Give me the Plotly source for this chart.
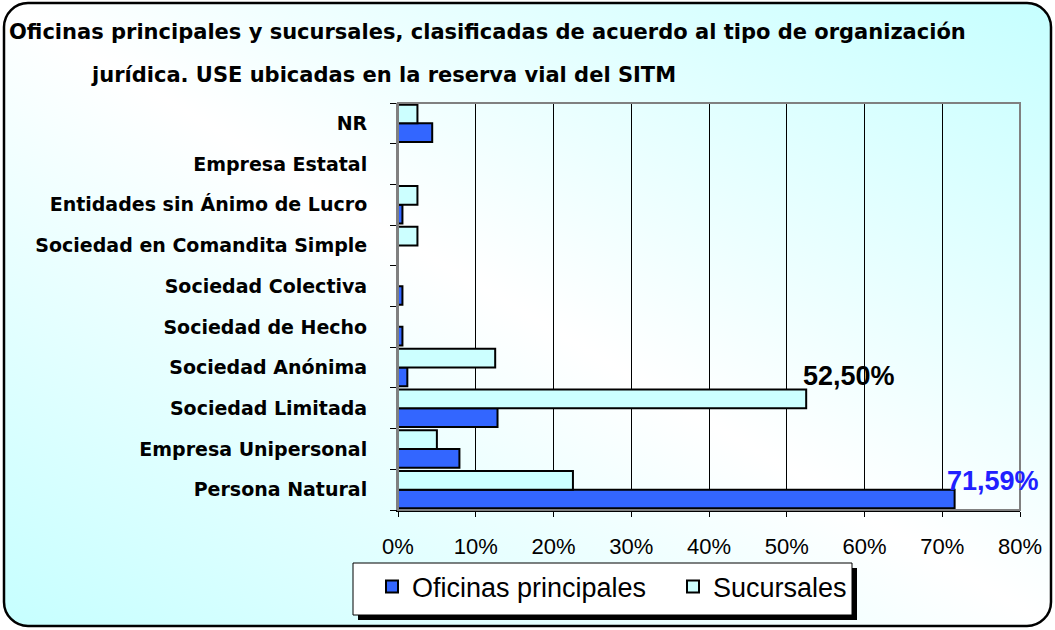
import base64
import plotly.graph_objects as go

# ---- data ----
categories = ["Persona Natural", "Empresa Unipersonal", "Sociedad Limitada",
              "Sociedad Anónima", "Sociedad de Hecho", "Sociedad Colectiva",
              "Sociedad en Comandita Simple", "Entidades sin Ánimo de Lucro",
              "Empresa Estatal", "NR"]
oficinas = [71.59, 7.9, 12.8, 1.2, 0.57, 0.57, 0.0, 0.57, 0.0, 4.4]
sucursales = [22.5, 5.0, 52.5, 12.5, 0.0, 0.0, 2.5, 2.5, 0.0, 2.5]
x_ticks = [0, 10, 20, 30, 40, 50, 60, 70, 80]
x_tick_labels = [f"{v}%" for v in x_ticks]

W, H = 1055, 630
ML, MR, MT, MB = 398, 35, 103, 120
PW, PH = W - ML - MR, H - MT - MB

def px_x(px):
    return (px - ML) / PW

def px_y(py):
    return (H - MB - py) / PH

FONT_B = "DejaVu Sans"
FONT_N = "Liberation Sans, Arial, sans-serif"

svg = f'''<svg xmlns="http://www.w3.org/2000/svg" width="{W}" height="{H}" viewBox="0 0 {W} {H}" preserveAspectRatio="none">
<defs><linearGradient id="g" x1="0" y1="1" x2="1" y2="0">
<stop offset="0" stop-color="#C6FFFF"/><stop offset="0.5" stop-color="#FFFFFF"/><stop offset="1" stop-color="#C6FFFF"/>
</linearGradient></defs>
<rect x="4" y="3" width="1047" height="623" rx="24" ry="24" fill="url(#g)" stroke="#000" stroke-width="2.5"/>
</svg>'''
bg_src = "data:image/svg+xml;base64," + base64.b64encode(svg.encode()).decode()

fig = go.Figure()
fig.add_trace(go.Bar(y=categories, x=oficinas, orientation="h", name="Oficinas principales",
                     marker=dict(color="#3366FF", line=dict(color="black", width=2)),
                     legend="legend"))
fig.add_trace(go.Bar(y=categories, x=sucursales, orientation="h", name="Sucursales",
                     marker=dict(color="#CCFFFF", line=dict(color="black", width=2)),
                     legend="legend2"))

def fmt(v):
    return f"{v:.2f}%".replace(".", ",")

annotations = [
    dict(text="<b>Oficinas principales y sucursales, clasificadas de acuerdo al tipo de organización</b>",
         xref="paper", yref="paper", x=px_x(7), y=px_y(32), xanchor="left", yanchor="middle",
         showarrow=False, font=dict(family=FONT_B, size=21, color="black")),
    dict(text="<b>jurídica. USE ubicadas en la reserva vial del SITM</b>",
         xref="paper", yref="paper", x=px_x(89), y=px_y(75), xanchor="left", yanchor="middle",
         showarrow=False, font=dict(family=FONT_B, size=21, color="black")),
    dict(text=f"<b>{fmt(sucursales[2])}</b>", x=sucursales[2], y=categories[2],
         xanchor="left", yanchor="middle", xshift=-5, yshift=32, showarrow=False,
         font=dict(family=FONT_N, size=27, color="black")),
    dict(text=f"<b>{fmt(oficinas[0])}</b>", x=oficinas[0], y=categories[0],
         xanchor="left", yanchor="middle", xshift=-10, yshift=9, showarrow=False,
         font=dict(family=FONT_N, size=27, color="#2020FF")),
]

shapes = [
    # plot frame
    dict(type="rect", xref="paper", yref="paper", x0=0, y0=0, x1=1, y1=1,
         line=dict(color="#808080", width=2), layer="above"),
    # legend shadow and box
    dict(type="rect", xref="paper", yref="paper", x0=px_x(358), x1=px_x(857),
         y0=px_y(620), y1=px_y(568), fillcolor="black", line=dict(width=0), layer="above"),
    dict(type="rect", xref="paper", yref="paper", x0=px_x(353), x1=px_x(852),
         y0=px_y(615), y1=px_y(563), fillcolor="white", line=dict(color="black", width=1), layer="above"),
]

fig.update_layout(
    width=W, height=H,
    margin=dict(l=ML, r=MR, t=MT, b=MB, autoexpand=False),
    paper_bgcolor="white", plot_bgcolor="rgba(0,0,0,0)",
    barmode="group", bargap=0.08, bargroupgap=0,
    showlegend=True,
    legend=dict(orientation="h", x=px_x(372), y=px_y(587), xanchor="left", yanchor="middle",
                bgcolor="rgba(0,0,0,0)", borderwidth=0,
                font=dict(family=FONT_N, size=27, color="black")),
    legend2=dict(orientation="h", x=px_x(673), y=px_y(587), xanchor="left", yanchor="middle",
                 bgcolor="rgba(0,0,0,0)", borderwidth=0,
                 font=dict(family=FONT_N, size=27, color="black")),
    xaxis=dict(range=[0, 80], tickmode="array", tickvals=x_ticks, ticktext=x_tick_labels,
               showgrid=True, gridcolor="black", gridwidth=1, zeroline=False,
               showline=True, linecolor="black", linewidth=1.5,
               ticks="outside", ticklen=5, tickcolor="black", tickwidth=1,
               ticklabelstandoff=11,
               tickfont=dict(family=FONT_N, size=22, color="black"), fixedrange=True),
    yaxis=dict(categoryorder="array", categoryarray=categories, showgrid=False,
               showline=True, linecolor="#808080", linewidth=2,
               ticks="outside", ticklen=6, tickcolor="black", tickwidth=1,
               tickson="boundaries", ticklabelstandoff=25,
               tickfont=dict(family=FONT_B, size=19, color="black", weight="bold"),
               fixedrange=True),
    annotations=annotations,
    shapes=shapes,
    images=[dict(source=bg_src, xref="paper", yref="paper",
                 x=-ML / PW, y=1 + MT / PH, sizex=W / PW, sizey=H / PH,
                 xanchor="left", yanchor="top", sizing="stretch", layer="below")],
    hovermode=False,
)

fig.write_html("out.html", config={"displayModeBar": False},
               post_script="document.body.style.margin='0';document.body.style.overflow='hidden';")
